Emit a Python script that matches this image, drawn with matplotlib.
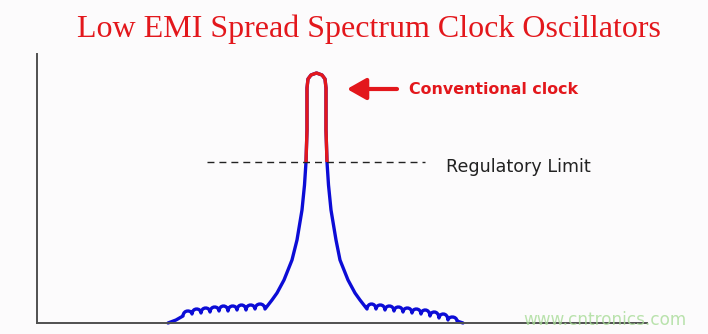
import numpy as np
import matplotlib.pyplot as plt
from matplotlib.path import Path
from matplotlib.patches import PathPatch

RED = '#e3171c'
BLUE = '#0c0cd6'

# frequency axis runs 0..610, amplitude 0..269 (arbitrary units)
limit_level = 161
limit_x = [170, 388]

# left skirt: foot, then the scalloped shoulder (cusps + arch tops)
left_foot_x = [131, 139]
left_foot_y = [0, 3]
left_cusp_x = [146, 155, 164, 173, 182, 191, 200, 209, 218, 228]
left_cusp_y = [7, 9, 10, 11, 12, 12, 13, 13, 14, 14]
left_arch_top = [12, 14, 15, 16, 17, 17, 18, 18, 19]

# central peak of the conventional clock, left flank -> cap -> right flank
peak_x = [235, 240, 247, 255, 260, 265, 267.5, 269, 270, 270, 271, 274, 279.5,
          285, 288, 289, 289, 290, 291.5, 294, 299, 303, 311, 318, 323, 330]
peak_y = [23, 30, 43, 63, 83, 113, 138, 161, 193, 235, 244, 248, 250,
          248, 244, 235, 193, 161, 138, 113, 83, 63, 43, 30, 23, 14]

# right skirt
right_cusp_x = [330, 339, 348, 357, 366, 375, 384, 393, 402, 411, 420]
right_cusp_y = [14, 14, 13, 12, 11, 10, 9, 7, 5, 3, 2]
right_arch_top = [19, 18, 17, 16, 15, 14, 13, 11, 9, 6]
right_foot_x = [426]
right_foot_y = [0]


def scallops(xs, ys, tops):
    # round arches between neighbouring cusps (cubic Bezier segments)
    verts, codes = [], []
    for i in range(len(tops)):
        w = xs[i + 1] - xs[i]
        h0 = ys[i] + (tops[i] - ys[i]) / 0.75
        h1 = ys[i + 1] + (tops[i] - ys[i + 1]) / 0.75
        verts += [(xs[i] + 0.05 * w, h0), (xs[i + 1] - 0.05 * w, h1),
                  (xs[i + 1], ys[i + 1])]
        codes += [Path.CURVE4] * 3
    return verts, codes


verts = [(left_foot_x[0], left_foot_y[0])]
codes = [Path.MOVETO]
for x, y in zip(left_foot_x[1:] + left_cusp_x[:1], left_foot_y[1:] + left_cusp_y[:1]):
    verts.append((x, y))
    codes.append(Path.LINETO)
v, c = scallops(left_cusp_x, left_cusp_y, left_arch_top)
verts += v
codes += c
for x, y in zip(peak_x, peak_y):
    verts.append((x, y))
    codes.append(Path.LINETO)
v, c = scallops(right_cusp_x, right_cusp_y, right_arch_top)
verts += v
codes += c
for x, y in zip(right_foot_x, right_foot_y):
    verts.append((x, y))
    codes.append(Path.LINETO)

fig = plt.figure(figsize=(7.08, 3.34), dpi=100)
fig.patch.set_facecolor('#fcfbfc')
ax = fig.add_axes([37 / 708, 11 / 334, 610 / 708, 269 / 334])
ax.set_facecolor('none')
ax.set_xlim(0, 610)
ax.set_ylim(0, 269)
ax.set_xticks([])
ax.set_yticks([])
for s in ['top', 'right']:
    ax.spines[s].set_visible(False)
for s in ['left', 'bottom']:
    ax.spines[s].set_color('#505050')
    ax.spines[s].set_linewidth(1.4)

# spectrum with spreading (blue)
ax.add_patch(PathPatch(Path(verts, codes), fill=False, edgecolor=BLUE, lw=2.4,
                       joinstyle='round', capstyle='round', clip_on=False))

# part of the peak above the limit (red)
i0 = peak_y.index(limit_level)
i1 = len(peak_y) - 1 - peak_y[::-1].index(limit_level)
ax.plot(peak_x[i0:i1 + 1], peak_y[i0:i1 + 1], color=RED, lw=2.4,
        solid_joinstyle='round', solid_capstyle='butt', zorder=3)

# regulatory limit
ax.plot(limit_x, [limit_level, limit_level], color='#222222', lw=1.0,
        ls=(0, (5, 3.6)), zorder=1)
ax.text(409, 151.5, 'Regulatory Limit', fontsize=12.6, color='#222222',
        ha='left', va='baseline')

ax.annotate('', xy=(310, 234), xytext=(360, 234),
            arrowprops=dict(arrowstyle='-|>,head_length=1.15,head_width=0.65',
                            color=RED, lw=3, mutation_scale=10,
                            shrinkA=0, shrinkB=0))
ax.text(372, 228.5, 'Conventional clock', fontsize=11.4, color=RED,
        fontweight='bold', ha='left', va='baseline')

fig.text(369 / 708, 297.5 / 334, 'Low EMI Spread Spectrum Clock Oscillators',
         family='Liberation Serif', fontsize=23, color=RED,
         ha='center', va='baseline')

fig.text(523 / 708, 9 / 334, 'www.cntronics.com', fontsize=12.2,
         color='#a8dc98', alpha=0.8, ha='left', va='baseline')

fig.savefig('out.png', dpi=100, facecolor=fig.get_facecolor())
